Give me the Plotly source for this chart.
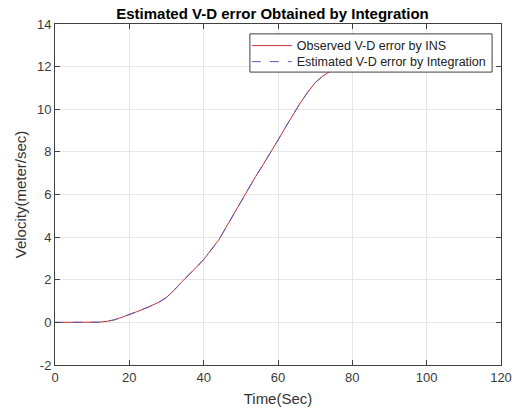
import plotly.graph_objects as go

time_s = [0, 5, 10, 12, 14, 16, 18, 20, 22, 25, 28, 30, 32, 34, 36, 38, 40, 42, 44, 46, 48, 50,
          52, 54, 56, 58, 60, 62, 64, 66, 68, 70, 72, 74, 76, 78]
observed = [0.0, 0.0, 0.0, 0.01, 0.05, 0.12, 0.24, 0.36, 0.5, 0.71, 0.95, 1.17, 1.5, 1.88, 2.22,
            2.58, 2.95, 3.4, 3.85, 4.45, 5.05, 5.7, 6.3, 6.85, 7.4, 7.95, 8.55, 9.15, 9.75, 10.3,
            10.8, 11.25, 11.55, 11.78, 11.95, 12.05]
estimated = [0.0, 0.0, 0.0, 0.01, 0.05, 0.12, 0.24, 0.36, 0.5, 0.71, 0.95, 1.17, 1.5, 1.88, 2.22,
             2.58, 2.95, 3.4, 3.85, 4.45, 5.05, 5.7, 6.3, 6.85, 7.4, 7.95, 8.55, 9.15, 9.75, 10.3,
             10.8, 11.25, 11.55, 11.78, 11.95, 12.05]
x_ticks = [0, 20, 40, 60, 80, 100, 120]
y_ticks = [-2, 0, 2, 4, 6, 8, 10, 12, 14]
y_tick_labels = ["-2", "0", "2", "4", "6", "8", "10", "12", "14"]

FONT = "Liberation Sans, Arial, sans-serif"
AX = "#404040"

fig = go.Figure()
fig.add_trace(go.Scatter(x=time_s, y=observed, mode="lines",
                         name="Observed V-D error by INS", legend="legend",
                         line=dict(color="#c0303c", width=1)))
fig.add_trace(go.Scatter(x=time_s, y=estimated, mode="lines",
                         name="Estimated V-D error by Integration", legend="legend2",
                         line=dict(color="#5a5ac0", width=1, dash="dash")))

axis_common = dict(showline=True, linecolor=AX, linewidth=1, mirror="ticks",
                   ticks="inside", ticklen=5, tickcolor=AX, automargin=False,
                   showgrid=True, gridcolor="#e6e6e6", gridwidth=1, zeroline=False,
                   tickfont=dict(family=FONT, size=13, color="#3a3a3a"),
                   title_font=dict(family=FONT, size=15, color="#333333"))

fig.update_xaxes(range=[0, 120], tickvals=x_ticks, title_text="Time(Sec)",
                 title_standoff=9, **axis_common)
fig.update_yaxes(range=[-2, 14], tickvals=y_ticks, ticktext=y_tick_labels,
                 title_text="Velocity(meter/sec)", title_standoff=6, **axis_common)

# legend frame (boxed, as in the original)
fig.add_shape(type="rect", xref="paper", yref="paper",
              x0=0.437, x1=0.980, y0=0.859, y1=0.971,
              fillcolor="white", line=dict(color=AX, width=1), layer="above")

leg_common = dict(xanchor="left", yanchor="middle", bgcolor="rgba(0,0,0,0)",
                  borderwidth=0, font=dict(family=FONT, size=12.5, color="#222222"),
                  itemwidth=40)

fig.update_layout(
    width=524, height=411,
    margin=dict(l=55, r=23, t=24, b=46),
    paper_bgcolor="white", plot_bgcolor="white",
    title=dict(text="<b>Estimated V-D error Obtained by Integration</b>",
               font=dict(family=FONT, size=15, color="black"),
               x=0.52, xanchor="center", y=0.98, yanchor="top"),
    legend=dict(x=0.43, y=0.9355, **leg_common),
    legend2=dict(x=0.43, y=0.8886, **leg_common),
    showlegend=True,
)

fig.write_html("out.html")
